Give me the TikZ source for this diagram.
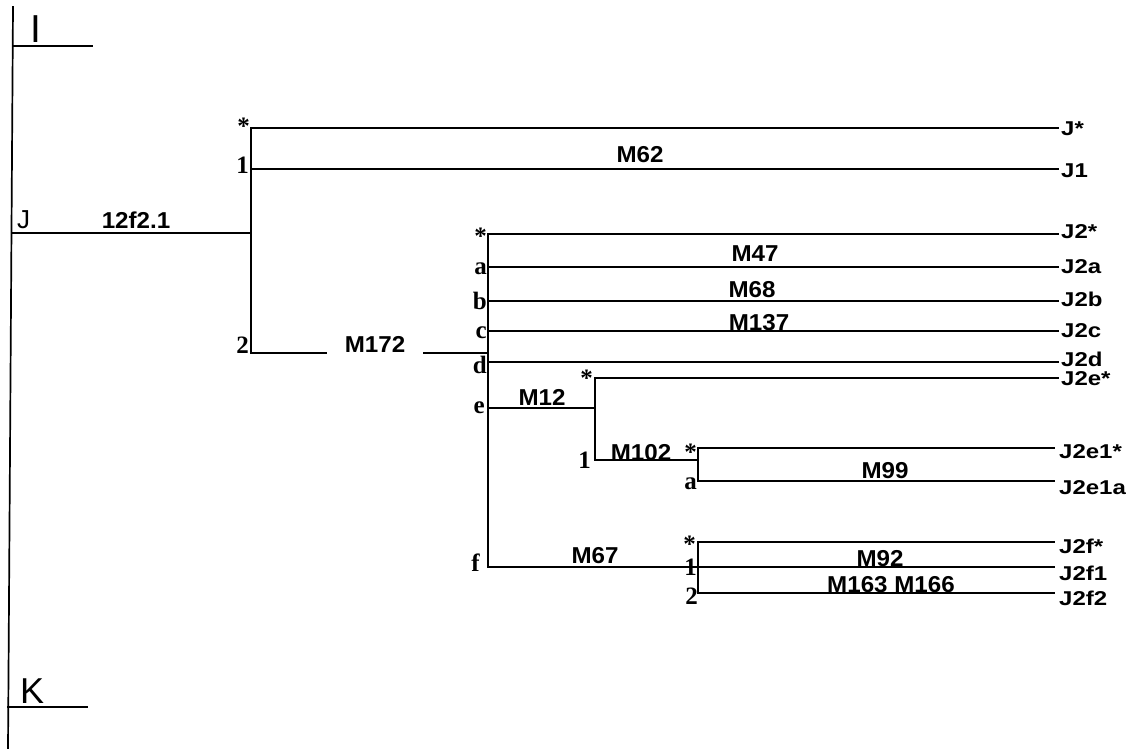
\documentclass[tikz,border=0pt]{standalone}
\usepackage{fontspec}
\setmainfont{Liberation Sans}
\newfontfamily\labfont[FakeStretch=1.05]{Liberation Sans}
\newfontfamily\leaffont[FakeStretch=1.2]{Liberation Sans}
\newfontfamily\brfont{Liberation Serif}
\usetikzlibrary{positioning}
\tikzset{
  tree/.style={line width=1.7pt, line cap=rect},
  group/.style={inner sep=0pt, anchor=base west},
  mlabel/.style={font=\labfont\bfseries\fontsize{23}{23}\selectfont, inner sep=0pt, anchor=base},
  leaf/.style={font=\leaffont\bfseries\fontsize{20}{20}\selectfont, inner sep=0pt},
  branch/.style={font=\brfont\bfseries\fontsize{25}{25}\selectfont, inner sep=0pt}
}
\begin{document}
\begin{tikzpicture}[x=1pt, y=-1pt]
  \useasboundingbox (0,0) rectangle (1132,749);
  % spine with the groups I, J, K
  \coordinate (top) at (13,7);
  \coordinate (bot) at (8,749);
  \coordinate (I0) at (13,46);
  \coordinate (I1) at (92,46);
  \coordinate (J0) at (12,233);
  \coordinate (K0) at (8,707);
  \coordinate (K1) at (87,707);
  \draw[tree] (top) -- (bot);
  \draw[tree] (I0) -- (I1);
  \draw[tree] (K0) -- (K1);
  \node[group, font=\fontsize{39}{39}\selectfont] (I) at (30,43) {I};
  \node[group, font=\fontsize{26}{26}\selectfont] (J) at (17,228) {J};
  \node[group, font=\fontsize{36}{36}\selectfont] (K) at (20,703) {K};

  % split of J
  \coordinate (s1) at (251,233);
  \coordinate (s1-s) at (251,128);
  \coordinate (s1-1) at (251,169);
  \coordinate (s1-2) at (251,353);
  \draw[tree] (J0) -- (s1);
  \draw[tree] (s1-s) -- (s1-2);
  \node[mlabel] (m12f) at (136,228) {12f2.1};
  \node[branch, left=1pt of s1-s, yshift=2pt] (b1-s) {*};
  \node[branch, left=2pt of s1-1, yshift=4pt] (b1-1) {1};
  \node[branch, left=2pt of s1-2, yshift=8pt] (b1-2) {2};

  \coordinate (e-Js) at (1058,128);
  \coordinate (e-J1) at (1058,169);
  \draw[tree] (s1-s) -- (e-Js);
  \draw[tree] (s1-1) -- (e-J1);
  \node[leaf, right=3pt of e-Js, yshift=-1pt] (Js) {J*};
  \node[leaf, right=3pt of e-J1, yshift=-2pt] (J1) {J1};
  \node[mlabel] (m62) at (640,162) {M62};

  % branch 2 through M172
  \coordinate (s2) at (488,353);
  \node[mlabel, inner xsep=18pt] (m172) at (375,352) {M172};
  \draw[tree] (s1-2) -- (s1-2 -| m172.west);
  \draw[tree] (s1-2 -| m172.east) -- (s2);

  % split of J2
  \coordinate (s2-s) at (488,234);
  \coordinate (s2-a) at (488,267);
  \coordinate (s2-b) at (488,301);
  \coordinate (s2-c) at (488,331);
  \coordinate (s2-d) at (488,362);
  \coordinate (s2-e) at (488,408);
  \coordinate (s2-f) at (488,567);
  \draw[tree] (s2-s) -- (s2-f);
  \node[branch, left=1pt of s2-s, yshift=-2pt] (b2-s) {*};
  \node[branch, left=1pt of s2-a, yshift=-2pt] (b2-a) {a};
  \node[branch, left=1pt of s2-b] (b2-b) {b};
  \node[branch, left=1pt of s2-c, yshift=-2pt] (b2-c) {c};
  \node[branch, left=1pt of s2-d, yshift=-3pt] (b2-d) {d};
  \node[branch, left=3pt of s2-e] (b2-e) {e};
  \node[branch, left=8pt of s2-f, yshift=4pt] (b2-f) {f};

  \coordinate (e-J2s) at (1058,234);
  \coordinate (e-J2a) at (1058,267);
  \coordinate (e-J2b) at (1058,301);
  \coordinate (e-J2c) at (1058,331);
  \coordinate (e-J2d) at (1058,362);
  \draw[tree] (s2-s) -- (e-J2s);
  \draw[tree] (s2-a) -- (e-J2a);
  \draw[tree] (s2-b) -- (e-J2b);
  \draw[tree] (s2-c) -- (e-J2c);
  \draw[tree] (s2-d) -- (e-J2d);
  \node[leaf, right=3pt of e-J2s, yshift=2pt] (J2s) {J2*};
  \node[leaf, right=3pt of e-J2a] (J2a) {J2a};
  \node[leaf, right=3pt of e-J2b, yshift=2pt] (J2b) {J2b};
  \node[leaf, right=3pt of e-J2c] (J2c) {J2c};
  \node[leaf, right=3pt of e-J2d, yshift=3pt] (J2d) {J2d};
  \node[mlabel] (m47) at (755,261) {M47};
  \node[mlabel] (m68) at (752,297) {M68};
  \node[mlabel] (m137) at (759,330) {M137};

  % split of J2e
  \coordinate (s3) at (595,408);
  \coordinate (s3-s) at (595,378);
  \coordinate (s3-1) at (595,460);
  \coordinate (e-J2es) at (1058,378);
  \draw[tree] (s2-e) -- (s3);
  \draw[tree] (s3-s) -- (s3-1);
  \draw[tree] (s3-s) -- (e-J2es);
  \node[leaf, right=3pt of e-J2es, yshift=-1pt] (J2es) {J2e*};
  \node[mlabel] (m12) at (542,405) {M12};
  \node[branch, left=2pt of s3-s] (b3-s) {*};
  \node[branch, left=4pt of s3-1] (b3-1) {1};

  % split of J2e1
  \coordinate (s4) at (698,460);
  \coordinate (s4-s) at (698,448);
  \coordinate (s4-a) at (698,481);
  \coordinate (e-J2e1s) at (1054,448);
  \coordinate (e-J2e1a) at (1054,481);
  \draw[tree] (s3-1) -- (s4);
  \draw[tree] (s4-s) -- (s4-a);
  \draw[tree] (s4-s) -- (e-J2e1s);
  \draw[tree] (s4-a) -- (e-J2e1a);
  \node[leaf, right=5pt of e-J2e1s, yshift=-4pt] (J2e1s) {J2e1*};
  \node[leaf, right=5pt of e-J2e1a, yshift=-7pt] (J2e1a) {J2e1a};
  \node[mlabel] (m102) at (641,460) {M102};
  \node[mlabel] (m99) at (885,478) {M99};
  \node[branch, left=1pt of s4-s, yshift=-4pt] (b4-s) {*};
  \node[branch, left=1pt of s4-a, yshift=-3pt] (b4-a) {a};

  % split of J2f
  \coordinate (s5) at (698,567);
  \coordinate (s5-s) at (698,542);
  \coordinate (s5-2) at (698,593);
  \coordinate (e-J2fs) at (1054,542);
  \coordinate (e-J2f1) at (1054,567);
  \coordinate (e-J2f2) at (1054,593);
  \draw[tree] (s2-f) -- (s5);
  \draw[tree] (s5-s) -- (s5-2);
  \draw[tree] (s5-s) -- (e-J2fs);
  \draw[tree] (s5) -- (e-J2f1);
  \draw[tree] (s5-2) -- (e-J2f2);
  \node[leaf, right=5pt of e-J2fs, yshift=-4pt] (J2fs) {J2f*};
  \node[leaf, right=5pt of e-J2f1, yshift=-6pt] (J2f1) {J2f1};
  \node[leaf, right=5pt of e-J2f2, yshift=-5pt] (J2f2) {J2f2};
  \node[mlabel] (m67) at (595,563) {M67};
  \node[mlabel] (m92) at (880,566) {M92};
  \node[mlabel] (m163) at (891,592) {M163 M166};
  \node[branch, left=2pt of s5-s, yshift=-2pt] (b5-s) {*};
  \node[branch, left=1pt of s5] (b5-1) {1};
  \node[branch, left=0pt of s5-2, yshift=-3pt] (b5-2) {2};
\end{tikzpicture}
\end{document}
